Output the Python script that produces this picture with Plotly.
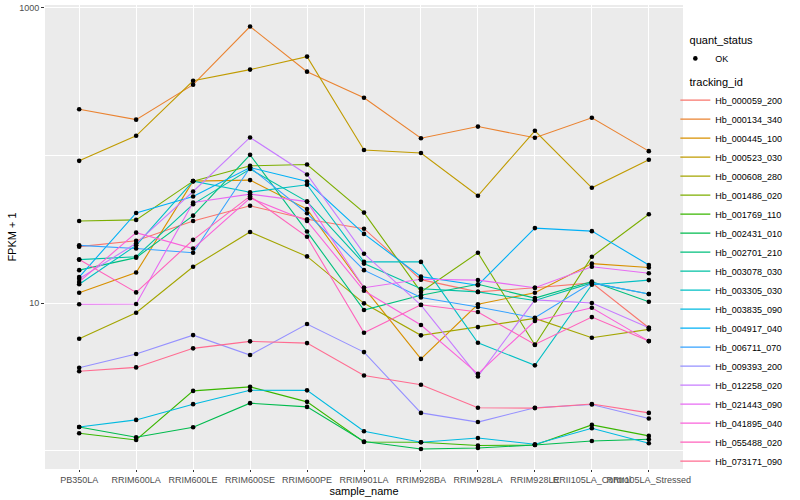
import plotly.graph_objects as go

samples = ["PB350LA", "RRIM600LA", "RRIM600LE", "RRIM600SE", "RRIM600PE", "RRIM901LA",
           "RRIM928BA", "RRIM928LA", "RRIM928LE", "RRII105LA_Control", "RRII105LA_Stressed"]

tracking_ids = ["Hb_000059_200", "Hb_000134_340", "Hb_000445_100", "Hb_000523_030",
                "Hb_000608_280", "Hb_001486_020", "Hb_001769_110", "Hb_002431_010",
                "Hb_002701_210", "Hb_003078_030", "Hb_003305_030", "Hb_003835_090",
                "Hb_004917_040", "Hb_006711_070", "Hb_009393_200", "Hb_012258_020",
                "Hb_021443_090", "Hb_041895_040", "Hb_055488_020", "Hb_073171_090"]

colors = ["#F8766D", "#EA8331", "#D89000", "#C09B00", "#A3A500", "#7CAE00", "#39B600",
          "#00BB4E", "#00BF7D", "#00C1A3", "#00BFC4", "#00BAE0", "#00B0F6", "#35A2FF",
          "#9590FF", "#C77CFF", "#E76BF3", "#FA62DB", "#FF62BC", "#FF6C91"]

# FPKM + 1 values per tracking_id, in the order of `samples`
Hb_000059_200 = [24.1, 26.4, 36.0, 45.6, 37.0, 31.9, 14.4, 11.9, 12.7, 13.7, 6.80]
Hb_000134_340 = [206, 175, 302, 748, 370, 246, 131, 157, 132, 180, 107]
Hb_000445_100 = [11.75, 16.1, 67.0, 68.1, 43.3, 12.7, 4.18, 9.80, 11.75, 18.5, 17.4]
Hb_000523_030 = [92.0, 136, 321, 382, 468, 109, 104, 53.3, 147, 60.4, 93.5]
Hb_000608_280 = [5.72, 8.59, 17.6, 30.3, 20.7, 9.95, 6.04, 6.87, 7.87, 5.81, 6.63]
Hb_001486_020 = [36.0, 36.6, 67.0, 85.1, 86.9, 41.0, 11.9, 21.9, 5.19, 20.6, 40.0]
Hb_001769_110 = [1.311, 1.180, 2.538, 2.703, 2.138, 1.144, 1.138, 1.081, 1.091, 1.492, 1.257]
Hb_002431_010 = [1.446, 1.231, 1.439, 2.095, 1.977, 1.151, 1.025, 1.041, 1.091, 1.162, 1.193]
Hb_002701_210 = [16.7, 20.3, 39.1, 101, 30.5, 8.96, 11.3, 13.4, 10.8, 14.0, 10.2]
Hb_003078_030 = [19.7, 20.6, 46.8, 80.9, 48.7, 18.5, 12.5, 11.9, 10.4, 13.7, 11.5]
Hb_003305_030 = [13.4, 24.6, 67.0, 56.4, 63.3, 19.0, 19.0, 5.38, 3.78, 13.3, 14.3]
Hb_003835_090 = [1.446, 1.613, 2.063, 2.566, 2.56, 1.352, 1.138, 1.217, 1.103, 1.417, 1.121]
Hb_004917_040 = [15.0, 40.8, 52.7, 82.9, 66.6, 29.4, 15.1, 13.2, 32.2, 30.7, 18.1]
Hb_006711_070 = [24.6, 23.4, 21.9, 82.9, 40.6, 16.7, 10.9, 9.39, 7.95, 13.7, 11.5]
Hb_009393_200 = [3.64, 4.51, 6.06, 4.44, 7.20, 4.65, 1.80, 1.56, 1.95, 2.05, 1.65]
Hb_012258_020 = [14.6, 25.4, 57.0, 132.5, 74.3, 21.6, 9.69, 3.18, 10.5, 10.0, 6.80]
Hb_021443_090 = [9.80, 9.84, 48.0, 54.7, 48.7, 12.7, 14.5, 14.3, 12.7, 17.6, 15.9]
Hb_041895_040 = [13.9, 30.0, 23.4, 51.4, 36.0, 12.1, 7.09, 3.31, 7.55, 9.29, 5.52]
Hb_055488_020 = [19.7, 11.8, 26.8, 53.0, 28.1, 6.29, 9.74, 8.69, 5.24, 8.03, 5.52]
Hb_073171_090 = [3.45, 3.66, 4.93, 5.50, 5.35, 3.23, 2.79, 1.95, 1.94, 2.07, 1.80]

series = [Hb_000059_200, Hb_000134_340, Hb_000445_100, Hb_000523_030, Hb_000608_280,
          Hb_001486_020, Hb_001769_110, Hb_002431_010, Hb_002701_210, Hb_003078_030,
          Hb_003305_030, Hb_003835_090, Hb_004917_040, Hb_006711_070, Hb_009393_200,
          Hb_012258_020, Hb_021443_090, Hb_041895_040, Hb_055488_020, Hb_073171_090]

FONT = "Liberation Sans, Arial, sans-serif"
NB = "\u00a0"

fig = go.Figure()

for tid, col, vals in zip(tracking_ids, colors, series):
    fig.add_trace(go.Scatter(
        x=samples, y=vals, mode="lines", name=tid,
        line=dict(color=col, width=1.1),
        legend="legend2", showlegend=True,
    ))

all_x = [s for vals in series for s in samples]
all_y = [v for vals in series for v in vals]
fig.add_trace(go.Scatter(
    x=all_x, y=all_y, mode="markers", name="OK",
    marker=dict(color="black", size=4.6),
    legend="legend", showlegend=True,
))

fig.update_layout(
    width=800, height=500,
    margin=dict(l=45, r=117, t=5, b=31),
    paper_bgcolor="white",
    plot_bgcolor="#EBEBEB",
    font=dict(family=FONT, size=9, color="black"),
    xaxis=dict(
        type="category", categoryorder="array", categoryarray=samples,
        range=[-0.6, 10.6], automargin=False,
        showgrid=True, gridcolor="white", gridwidth=1.1,
        zeroline=False, showline=False,
        ticks="outside", ticklen=2, tickcolor="#333333", tickwidth=1,
        tickangle=0,
        tickfont=dict(family=FONT, size=9, color="#4D4D4D"),
        title=dict(text="sample_name", font=dict(family=FONT, size=11, color="black"),
                   standoff=0),
    ),
    yaxis=dict(
        type="log", range=[-0.125, 3.02], automargin=False,
        tickmode="array", tickvals=[10, 1000], ticktext=["10", "1000"],
        showgrid=True, gridcolor="white", gridwidth=1.1,
        minor=dict(tickmode="array", tickvals=[1, 100], showgrid=True,
                   gridcolor="white", gridwidth=0.55, ticks=""),
        zeroline=False, showline=False,
        ticks="outside", ticklen=3, tickcolor="#333333", tickwidth=1,
        tickfont=dict(family=FONT, size=9, color="#4D4D4D"),
        title=dict(text="FPKM + 1", font=dict(family=FONT, size=11, color="black"),
                   standoff=0),
    ),
    legend=dict(
        title=dict(text=NB * 4 + "quant_status",
                   font=dict(family=FONT, size=11, color="black")),
        font=dict(family=FONT, size=9, color="black"),
        x=0.988, y=0.947, xanchor="left", yanchor="top",
        bgcolor="rgba(0,0,0,0)", itemwidth=30,
    ),
    legend2=dict(
        title=dict(text=NB * 4 + "tracking_id",
                   font=dict(family=FONT, size=11, color="black")),
        font=dict(family=FONT, size=9, color="black"),
        x=0.988, y=0.857, xanchor="left", yanchor="top",
        bgcolor="rgba(0,0,0,0)", itemwidth=30,
    ),
    showlegend=True,
)

fig.write_html(
    "out.html",
    config={"displayModeBar": False},
    post_script="document.body.style.margin='0';document.body.style.padding='0';"
                "document.body.style.overflow='hidden';",
)
